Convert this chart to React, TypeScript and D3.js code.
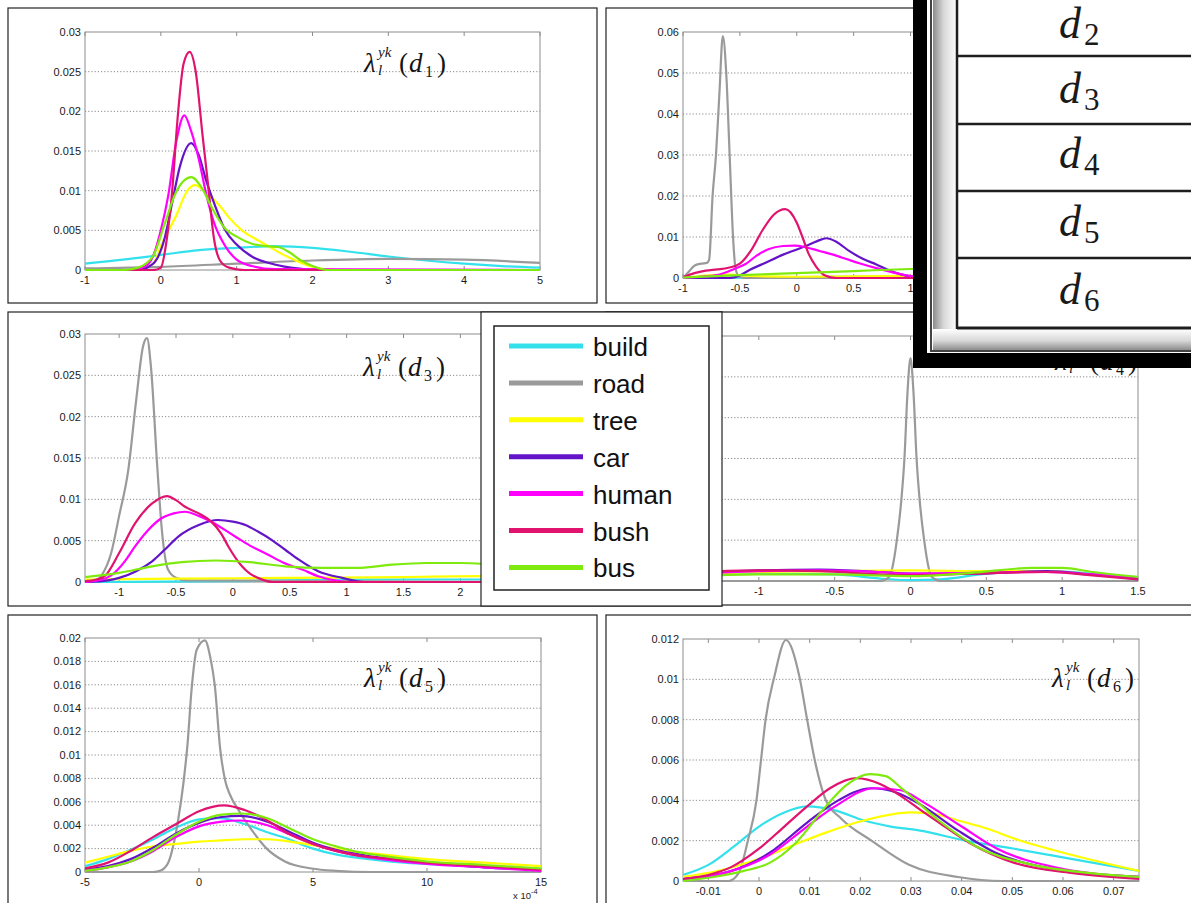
import React from 'react';
import * as d3 from 'd3';

type Pt = [number, number];

const classes = ['build', 'road', 'tree', 'car', 'human', 'bush', 'bus'];
const classColors = ['#33e1ec', '#9a9a9a', '#ffff00', '#6314c8', '#ff00ff', '#e0136f', '#7fea0e'];

// d1
const d1Build: Pt[] = [[-1, 0.0008], [-0.5, 0.0013], [0, 0.0019], [0.5, 0.0025], [1, 0.0028], [1.5, 0.003], [2, 0.0028], [2.5, 0.0023], [3, 0.0017], [3.5, 0.0012], [4, 0.0008], [4.5, 0.0005], [5, 0.0003]];
const d1Road: Pt[] = [[-1, 0.0002], [0, 0.0004], [1, 0.0008], [2, 0.0012], [3, 0.0014], [4, 0.0013], [5, 0.0009]];
const d1Tree: Pt[] = [[-1, 0], [-0.3, 0], [-0.1, 0.0008], [0, 0.003], [0.2, 0.0068], [0.35, 0.01], [0.45, 0.0107], [0.6, 0.0097], [0.76, 0.0083], [0.9, 0.0066], [1.07, 0.005], [1.25, 0.0039], [1.42, 0.003], [1.6, 0.002], [1.78, 0.0012], [2, 0.0004], [2.3, 0], [5, 0]];
const d1Car: Pt[] = [[-1, 0], [-0.3, 0], [-0.1, 0.0008], [0.05, 0.004], [0.15, 0.0085], [0.25, 0.013], [0.4, 0.016], [0.5, 0.0145], [0.6, 0.0112], [0.7, 0.0085], [0.85, 0.005], [1, 0.0032], [1.2, 0.0017], [1.5, 0.0007], [1.8, 0.0002], [2.1, 0], [5, 0]];
const d1Human: Pt[] = [[-1, 0], [-0.4, 0], [-0.2, 0.0005], [-0.1, 0.0018], [0, 0.005], [0.1, 0.0095], [0.2, 0.016], [0.31, 0.0195], [0.4, 0.0175], [0.5, 0.014], [0.6, 0.0095], [0.7, 0.006], [0.85, 0.003], [1, 0.0013], [1.2, 0.0005], [1.5, 0.0001], [5, 0]];
const d1Bush: Pt[] = [[-1, 0], [-0.1, 0], [0, 0.0003], [0.08, 0.004], [0.15, 0.01], [0.22, 0.019], [0.3, 0.026], [0.38, 0.0275], [0.46, 0.025], [0.55, 0.017], [0.62, 0.011], [0.7, 0.004], [0.78, 0.0012], [0.9, 0.0003], [1.1, 0], [5, 0]];
const d1Bus: Pt[] = [[-1, 0], [-0.5, 0], [-0.3, 0.0003], [-0.1, 0.0018], [0.05, 0.0058], [0.2, 0.0098], [0.4, 0.0117], [0.55, 0.0102], [0.67, 0.0079], [0.85, 0.0052], [1, 0.0042], [1.2, 0.0033], [1.4, 0.003], [1.55, 0.0029], [1.7, 0.0022], [1.85, 0.0012], [2, 0.0005], [2.2, 0], [5, 0]];

// d2
const d2Build: Pt[] = [[-1, 0], [0, 0.0002], [1, 0.0004], [2, 0.0004], [3, 0.0003]];
const d2Road: Pt[] = [[-1, 0], [-0.95, 0.0015], [-0.9, 0.003], [-0.84, 0.0035], [-0.79, 0.0037], [-0.77, 0.0045], [-0.74, 0.02], [-0.71, 0.03], [-0.68, 0.045], [-0.65, 0.059], [-0.62, 0.05], [-0.59, 0.03], [-0.56, 0.01], [-0.54, 0.0027], [-0.51, 0.0004], [-0.45, 0], [3, 0]];
const d2Tree: Pt[] = [[-1, 0], [-0.8, 0.0006], [-0.6, 0.0008], [-0.4, 0.0005], [0, 0.0003], [1, 0.0005], [3, 0.0003]];
const d2Car: Pt[] = [[-1, 0], [-0.6, 0], [-0.5, 0.0006], [-0.42, 0.0019], [-0.3, 0.0034], [-0.12, 0.0057], [0.08, 0.0078], [0.18, 0.009], [0.26, 0.0097], [0.35, 0.0088], [0.46, 0.0066], [0.58, 0.0047], [0.7, 0.0033], [0.8, 0.002], [0.9, 0.001], [1.02, 0.0003], [1.2, 0], [3, 0]];
const d2Human: Pt[] = [[-1, 0], [-0.85, 0.0003], [-0.7, 0.0007], [-0.55, 0.0022], [-0.45, 0.0034], [-0.35, 0.0055], [-0.25, 0.007], [-0.12, 0.0078], [-0.02, 0.0079], [0.08, 0.0075], [0.2, 0.0066], [0.32, 0.0057], [0.45, 0.0045], [0.55, 0.0036], [0.7, 0.0024], [0.81, 0.0016], [0.95, 0.0007], [1.1, 0.0002], [1.3, 0], [3, 0]];
const d2Bush: Pt[] = [[-1, 0.0002], [-0.9, 0.0012], [-0.8, 0.0018], [-0.7, 0.0021], [-0.6, 0.0025], [-0.5, 0.0035], [-0.4, 0.0068], [-0.3, 0.0117], [-0.2, 0.0155], [-0.1, 0.0168], [0, 0.0135], [0.05, 0.01], [0.1, 0.0062], [0.17, 0.0028], [0.25, 0.0006], [0.35, 0], [3, 0]];
const d2Bus: Pt[] = [[-1, 0.0001], [-0.5, 0.0007], [0, 0.0012], [0.5, 0.0017], [1, 0.0022], [1.5, 0.0025], [2, 0.0026], [2.5, 0.0024], [3, 0.002]];

// d3
const d3Build: Pt[] = [[-1.3, 0], [0, 0.0001], [1, 0.0003], [2.7, 0.0003]];
const d3Road: Pt[] = [[-1.3, 0], [-1.2, 0.0002], [-1.15, 0.0009], [-1.07, 0.0035], [-1, 0.008], [-0.92, 0.0135], [-0.85, 0.022], [-0.79, 0.0285], [-0.755, 0.0295], [-0.72, 0.026], [-0.665, 0.014], [-0.625, 0.0064], [-0.57, 0.0015], [-0.5, 0.0005], [-0.4, 0.0002], [2.7, 0]];
const d3Tree: Pt[] = [[-1.3, 0.0003], [-0.5, 0.0004], [0.5, 0.0005], [1.5, 0.0006], [2.2, 0.0007], [2.7, 0.0007]];
const d3Car: Pt[] = [[-1.3, 0], [-1.1, 0.0002], [-1, 0.0005], [-0.85, 0.0013], [-0.71, 0.0025], [-0.6, 0.0039], [-0.48, 0.0055], [-0.3, 0.0069], [-0.13, 0.0075], [0, 0.0073], [0.11, 0.0069], [0.22, 0.0061], [0.34, 0.0051], [0.46, 0.0039], [0.58, 0.0027], [0.75, 0.0013], [0.96, 0.0005], [1.16, 0], [2.7, 0]];
const d3Human: Pt[] = [[-1.3, 0], [-1.15, 0.0003], [-1.07, 0.0008], [-0.95, 0.0025], [-0.86, 0.0043], [-0.75, 0.0062], [-0.65, 0.0075], [-0.52, 0.0083], [-0.42, 0.0085], [-0.3, 0.008], [-0.19, 0.0073], [0.02, 0.0055], [0.15, 0.0044], [0.31, 0.0033], [0.45, 0.0023], [0.61, 0.0015], [0.75, 0.0007], [0.9, 0.0002], [1, 0], [2.7, 0]];
const d3Bush: Pt[] = [[-1.3, 0.0001], [-1.2, 0.0003], [-1.12, 0.0008], [-1, 0.0035], [-0.86, 0.0071], [-0.71, 0.0095], [-0.58, 0.0104], [-0.5, 0.0099], [-0.42, 0.0091], [-0.3, 0.0083], [-0.19, 0.0073], [-0.1, 0.0058], [-0.04, 0.0043], [0.08, 0.0019], [0.15, 0.001], [0.22, 0.0005], [0.35, 0], [2.7, 0]];
const d3Bus: Pt[] = [[-1.3, 0.0006], [-1, 0.0011], [-0.71, 0.0019], [-0.45, 0.0024], [-0.15, 0.0026], [0.15, 0.0024], [0.46, 0.0019], [0.8, 0.0017], [1.1, 0.0017], [1.4, 0.0021], [1.7, 0.0023], [2, 0.0023], [2.2, 0.0022], [2.5, 0.0018], [2.7, 0.0014]];

// d4
const d4Build: Pt[] = [[-1.5, 0.0006], [-1, 0.0009], [-0.5, 0.0008], [-0.2, 0.0003], [0, 0.0001], [0.2, 0.0002], [0.5, 0.0009], [0.9, 0.0012], [1.2, 0.0009], [1.5, 0.0004]];
const d4Road: Pt[] = [[-1.5, 0], [-0.2, 0], [-0.14, 0.0005], [-0.12, 0.0016], [-0.09, 0.005], [-0.06, 0.01], [-0.04, 0.015], [-0.02, 0.023], [0, 0.0273], [0.02, 0.023], [0.04, 0.015], [0.06, 0.01], [0.09, 0.005], [0.12, 0.0016], [0.14, 0.0005], [0.2, 0], [1.5, 0]];
const d4Tree: Pt[] = [[-1.5, 0.0007], [-1, 0.0011], [-0.5, 0.0012], [0, 0.0013], [0.5, 0.0012], [0.9, 0.0012], [1.2, 0.0008], [1.5, 0.0003]];
const d4Car: Pt[] = [[-1.5, 0.0009], [-1, 0.0013], [-0.6, 0.0014], [-0.2, 0.0011], [0, 0.0009], [0.4, 0.0009], [0.9, 0.0012], [1.2, 0.0008], [1.5, 0.0003]];
const d4Human: Pt[] = [[-1.5, 0.0008], [-1, 0.0012], [-0.6, 0.0013], [-0.2, 0.0011], [0, 0.0009], [0.4, 0.001], [0.9, 0.0011], [1.2, 0.0008], [1.5, 0.0002]];
const d4Bush: Pt[] = [[-1.5, 0.001], [-1, 0.0013], [-0.6, 0.0012], [-0.2, 0.0008], [0, 0.0007], [0.4, 0.0009], [0.9, 0.0011], [1.2, 0.0007], [1.5, 0.0002]];
const d4Bus: Pt[] = [[-1.5, 0.0005], [-1, 0.0008], [-0.5, 0.0008], [0, 0.0006], [0.4, 0.001], [0.8, 0.0016], [1, 0.0016], [1.2, 0.0011], [1.5, 0.0005]];

// d5 (x in 1e-4)
const d5Build: Pt[] = [[-5, 0.0005], [-4, 0.0011], [-3, 0.0019], [-2, 0.0028], [-1, 0.0038], [0, 0.0045], [0.9, 0.0046], [2, 0.0041], [3, 0.0034], [3.8, 0.0029], [5, 0.002], [6, 0.0015], [7, 0.0012], [9, 0.0008], [11, 0.0006], [13, 0.0004], [15, 0.0003]];
const d5Road: Pt[] = [[-5, 0], [-2, 0], [-1.71, 0.0001], [-1.35, 0.0008], [-1.1, 0.0025], [-0.91, 0.0045], [-0.69, 0.0075], [-0.5, 0.011], [-0.33, 0.0155], [-0.1, 0.019], [0.26, 0.0198], [0.5, 0.0183], [0.69, 0.016], [0.93, 0.0105], [1.15, 0.0078], [1.36, 0.0066], [1.73, 0.0053], [2.31, 0.0036], [2.97, 0.002], [3.77, 0.0009], [4.94, 0.0003], [6, 0.0001], [7.6, 0], [15, 0]];
const d5Tree: Pt[] = [[-5, 0.0008], [-4, 0.0013], [-3, 0.0018], [-2, 0.0022], [-1, 0.0024], [0, 0.0026], [1, 0.0027], [2, 0.0028], [3, 0.0028], [4, 0.0026], [5, 0.0023], [6, 0.002], [7, 0.0017], [8, 0.0015], [10, 0.0011], [12.5, 0.0008], [15, 0.0005]];
const d5Car: Pt[] = [[-5, 0.0002], [-4, 0.0005], [-3, 0.0011], [-2, 0.0021], [-1, 0.0033], [0, 0.0042], [1, 0.0047], [1.8, 0.0048], [3, 0.0043], [4, 0.0034], [5, 0.0025], [6, 0.0019], [7, 0.0015], [8, 0.0012], [10, 0.0008], [12.5, 0.0004], [15, 0.0002]];
const d5Human: Pt[] = [[-5, 0.0001], [-4, 0.0004], [-3, 0.0009], [-2, 0.0018], [-1, 0.003], [0, 0.0039], [1, 0.0043], [1.8, 0.0044], [3, 0.004], [4, 0.0032], [5, 0.0024], [6, 0.0018], [7, 0.0014], [8, 0.0011], [10, 0.0007], [12.5, 0.0004], [15, 0.0001]];
const d5Bush: Pt[] = [[-5, 0.0003], [-4, 0.0008], [-3, 0.0018], [-2, 0.003], [-1, 0.0041], [0, 0.0052], [1.1, 0.0057], [2, 0.0053], [3, 0.0044], [4, 0.0032], [5, 0.0024], [6, 0.0018], [7, 0.0014], [8, 0.0012], [10, 0.0008], [12.5, 0.0005], [15, 0.0002]];
const d5Bus: Pt[] = [[-5, 0.0001], [-4, 0.0004], [-3, 0.0009], [-2, 0.0019], [-1, 0.0032], [0, 0.0043], [1, 0.0049], [1.9, 0.005], [3, 0.0046], [4, 0.0037], [5, 0.0028], [6, 0.0022], [7, 0.0017], [8, 0.0014], [10, 0.0009], [12.5, 0.0006], [15, 0.0003]];

// d6
const d6Build: Pt[] = [[-0.015, 0.0003], [-0.01, 0.0008], [-0.005, 0.0017], [0, 0.0027], [0.005, 0.0034], [0.0095, 0.0037], [0.015, 0.0035], [0.0207, 0.003], [0.026, 0.0027], [0.0318, 0.0025], [0.0407, 0.002], [0.0504, 0.0016], [0.0616, 0.0011], [0.075, 0.0005]];
const d6Road: Pt[] = [[-0.015, 0], [-0.006, 0], [-0.004, 0.0004], [-0.0022, 0.002], [-0.0005, 0.004], [0.0004, 0.006], [0.0013, 0.008], [0.003, 0.0101], [0.0053, 0.01195], [0.008, 0.0101], [0.0095, 0.008], [0.011, 0.006], [0.0132, 0.004], [0.0162, 0.0031], [0.0222, 0.002], [0.0296, 0.0008], [0.0393, 0.0002], [0.048, 0], [0.075, 0]];
const d6Tree: Pt[] = [[-0.015, 0.0002], [-0.008, 0.0005], [0, 0.0011], [0.007, 0.0018], [0.0132, 0.0024], [0.0207, 0.003], [0.03, 0.0034], [0.035, 0.0033], [0.0393, 0.003], [0.045, 0.0026], [0.0504, 0.0021], [0.0616, 0.0013], [0.075, 0.0005]];
const d6Car: Pt[] = [[-0.015, 0.0001], [-0.0054, 0.0005], [0.0021, 0.0014], [0.0095, 0.0029], [0.015, 0.0039], [0.0222, 0.0046], [0.027, 0.0044], [0.0318, 0.0038], [0.0393, 0.0025], [0.0467, 0.0014], [0.0578, 0.0006], [0.075, 0.0002]];
const d6Human: Pt[] = [[-0.015, 0.0001], [-0.0054, 0.0005], [0.0021, 0.0013], [0.0095, 0.0027], [0.015, 0.0037], [0.0228, 0.0046], [0.028, 0.0045], [0.0325, 0.0039], [0.04, 0.0027], [0.047, 0.0016], [0.058, 0.0007], [0.075, 0.0002]];
const d6Bush: Pt[] = [[-0.015, 0.0001], [-0.01, 0.0003], [-0.0054, 0.0007], [0, 0.0016], [0.005, 0.0027], [0.0095, 0.0037], [0.014, 0.0046], [0.0192, 0.0051], [0.024, 0.0048], [0.0281, 0.0042], [0.032, 0.0035], [0.0355, 0.0029], [0.0415, 0.0019], [0.0504, 0.0009], [0.0616, 0.0004], [0.075, 0.0001]];
const d6Bus: Pt[] = [[-0.015, 0], [-0.009, 0.0002], [-0.003, 0.0005], [0.0021, 0.0009], [0.0073, 0.0019], [0.0132, 0.0037], [0.017, 0.0047], [0.0218, 0.0053], [0.025, 0.0052], [0.0281, 0.0046], [0.0355, 0.003], [0.043, 0.0017], [0.054, 0.0008], [0.065, 0.0004], [0.075, 0.0002]];

// ticks
const d1XTicks = [-1, 0, 1, 2, 3, 4, 5];
const d1YTicks = [0, 0.005, 0.01, 0.015, 0.02, 0.025, 0.03];
const d2XTicks = [-1, -0.5, 0, 0.5, 1];
const d2YTicks = [0, 0.01, 0.02, 0.03, 0.04, 0.05, 0.06];
const d3XTicks = [-1, -0.5, 0, 0.5, 1, 1.5, 2];
const d3YTicks = [0, 0.005, 0.01, 0.015, 0.02, 0.025, 0.03];
const d4XTicks = [-1, -0.5, 0, 0.5, 1, 1.5];
const d4YTicks = [0, 0.005, 0.01, 0.015, 0.02, 0.025, 0.03];
const d5XTicks = [-5, 0, 5, 10, 15];
const d5YTicks = [0, 0.002, 0.004, 0.006, 0.008, 0.01, 0.012, 0.014, 0.016, 0.018, 0.02];
const d6XTicks = [-0.01, 0, 0.01, 0.02, 0.03, 0.04, 0.05, 0.06, 0.07];
const d6YTicks = [0, 0.002, 0.004, 0.006, 0.008, 0.01, 0.012];

const tableRows = ['2', '3', '4', '5', '6'];

type Box = [number, number, number, number];
interface PanelCfg {
  id: string;
  sub: string;
  frame: Box;
  plot: Box;
  xDomain: [number, number];
  yDomain: [number, number];
  xTicks: number[];
  yTicks: number[];
  series: Pt[][];
  title?: [number, number];
  yLabels?: boolean;
  expLabel?: boolean;
}

// panel 2 title and panel 4 y labels sit under the overlays, so they are not drawn
const panels: PanelCfg[] = [
  { id: 'p1', sub: '1', frame: [8, 8, 597, 303], plot: [85, 32, 540, 270], xDomain: [-1, 5], yDomain: [0, 0.03], xTicks: d1XTicks, yTicks: d1YTicks, series: [d1Build, d1Road, d1Tree, d1Car, d1Human, d1Bush, d1Bus], title: [364, 72], yLabels: true },
  { id: 'p2', sub: '2', frame: [606, 8, 1250, 303], plot: [683, 32, 1138, 278], xDomain: [-1, 3], yDomain: [0, 0.06], xTicks: d2XTicks, yTicks: d2YTicks, series: [d2Build, d2Road, d2Tree, d2Car, d2Human, d2Bush, d2Bus], yLabels: true },
  { id: 'p3', sub: '3', frame: [8, 312, 722, 606], plot: [85, 334, 540, 582], xDomain: [-1.3, 2.7], yDomain: [0, 0.03], xTicks: d3XTicks, yTicks: d3YTicks, series: [d3Build, d3Road, d3Tree, d3Car, d3Human, d3Bush, d3Bus], title: [363, 376], yLabels: true },
  { id: 'p4', sub: '4', frame: [606, 312, 1250, 605], plot: [683, 336, 1138, 581], xDomain: [-1.5, 1.5], yDomain: [0, 0.03], xTicks: d4XTicks, yTicks: d4YTicks, series: [d4Build, d4Road, d4Tree, d4Car, d4Human, d4Bush, d4Bus], title: [1055, 370] },
  { id: 'p5', sub: '5', frame: [8, 615, 597, 950], plot: [85, 638, 541, 872], xDomain: [-5, 15], yDomain: [0, 0.02], xTicks: d5XTicks, yTicks: d5YTicks, series: [d5Build, d5Road, d5Tree, d5Car, d5Human, d5Bush, d5Bus], title: [364, 687], yLabels: true, expLabel: true },
  { id: 'p6', sub: '6', frame: [606, 615, 1250, 950], plot: [683, 639, 1139, 881], xDomain: [-0.015, 0.075], yDomain: [0, 0.012], xTicks: d6XTicks, yTicks: d6YTicks, series: [d6Build, d6Road, d6Tree, d6Car, d6Human, d6Bush, d6Bus], title: [1052, 687], yLabels: true },
];

const fmt = (v: number) => (v === 0 ? '0' : String(+v.toFixed(6)));
const sans = "Arial, 'Liberation Sans', Helvetica, sans-serif";
const serif = "'Liberation Serif', 'Times New Roman', serif";

const Title = ({ x, y, sub }: { x: number; y: number; sub: string }) => (
  <g fontFamily={serif} fill="#151515">
    <text x={x} y={y} fontSize={27} fontStyle="italic">λ</text>
    <text x={x + 14} y={y - 15} fontSize={15} fontStyle="italic">yk</text>
    <text x={x + 14} y={y + 3} fontSize={15} fontStyle="italic">l</text>
    <text x={x + 35} y={y} fontSize={27}>(</text>
    <text x={x + 45} y={y} fontSize={27} fontStyle="italic">d</text>
    <text x={x + 61} y={y + 5} fontSize={16}>{sub}</text>
    <text x={x + 73} y={y} fontSize={27}>)</text>
  </g>
);

const Panel = ({ cfg }: { cfg: PanelCfg }) => {
  const [px0, py0, px1, py1] = cfg.plot;
  const [fx0, fy0, fx1, fy1] = cfg.frame;
  const x = d3.scaleLinear().domain(cfg.xDomain).range([px0, px1]);
  const y = d3.scaleLinear().domain(cfg.yDomain).range([py1, py0]);
  const line = d3.line<Pt>().x(d => x(d[0])).y(d => y(d[1])).curve(d3.curveMonotoneX);
  return (
    <g>
      <rect x={fx0} y={fy0} width={fx1 - fx0} height={fy1 - fy0} fill="#fff" stroke="#222" strokeWidth={1.2} />
      <clipPath id={`clip-${cfg.id}`}>
        <rect x={px0} y={py0 - 1} width={px1 - px0} height={py1 - py0 + 2} />
      </clipPath>
      {cfg.yTicks.filter(t => t !== cfg.yDomain[0] && t !== cfg.yDomain[1]).map(t => (
        <line key={t} x1={px0} x2={px1} y1={y(t)} y2={y(t)} stroke="#8a8a8a" strokeDasharray="1.2 2" strokeWidth={1} />
      ))}
      <rect x={px0} y={py0} width={px1 - px0} height={py1 - py0} fill="none" stroke="#8c8c8c" strokeWidth={1} />
      {cfg.xTicks.map(t => (
        <g key={t}>
          <line x1={x(t)} x2={x(t)} y1={py0} y2={py0 + 4} stroke="#8c8c8c" />
          <line x1={x(t)} x2={x(t)} y1={py1} y2={py1 - 4} stroke="#8c8c8c" />
        </g>
      ))}
      <g clipPath={`url(#clip-${cfg.id})`}>
        {cfg.series.map((s, i) => (
          <path key={i} d={line(s) || ''} fill="none" stroke={classColors[i]} strokeWidth={2.2} strokeLinejoin="round" />
        ))}
      </g>
      <g fontFamily={sans} fontSize={11} fill="#1a1a1a">
        {cfg.xTicks.map(t => (
          <text key={t} x={x(t)} y={py1 + 14} textAnchor="middle">{fmt(t)}</text>
        ))}
        {cfg.yLabels && cfg.yTicks.map(t => (
          <text key={t} x={px0 - 4} y={y(t)} dy="0.35em" textAnchor="end">{fmt(t)}</text>
        ))}
      </g>
      {cfg.expLabel && (
        <text x={513} y={899} fontFamily={sans} fontSize={9.5} fill="#1a1a1a">
          x 10<tspan dy={-5} fontSize={7.5}>-4</tspan>
        </text>
      )}
      {cfg.title && <Title x={cfg.title[0]} y={cfg.title[1]} sub={cfg.sub} />}
    </g>
  );
};

const Legend = () => (
  <g>
    <rect x={481} y={312} width={241} height={294} fill="#fff" stroke="#222" strokeWidth={1.2} />
    <rect x={494} y={326} width={215} height={264} fill="#fff" stroke="#222" strokeWidth={1.5} />
    {classes.map((c, i) => {
      const cy = 346 + i * 36.9;
      return (
        <g key={c}>
          <line x1={509} x2={583} y1={cy} y2={cy} stroke={classColors[i]} strokeWidth={5} />
          <text x={593} y={cy + 10} fontFamily={sans} fontSize={26} fill="#111">{c}</text>
        </g>
      );
    })}
  </g>
);

const TableOverlay = () => {
  const rowLines = [56, 124, 191, 258];
  const baselines = [38, 103, 168, 236, 304];
  return (
    <g>
      <defs>
        <linearGradient id="bevelH" x1="0" x2="1" y1="0" y2="0">
          <stop offset="0" stopColor="#8d8d8d" />
          <stop offset="0.45" stopColor="#d8d8d8" />
          <stop offset="1" stopColor="#ffffff" />
        </linearGradient>
        <linearGradient id="bevelV" x1="0" x2="0" y1="0" y2="1">
          <stop offset="0" stopColor="#ffffff" />
          <stop offset="0.55" stopColor="#d8d8d8" />
          <stop offset="1" stopColor="#8d8d8d" />
        </linearGradient>
      </defs>
      <rect x={913} y={-10} width={300} height={378} fill="#000" />
      <rect x={927} y={-10} width={290} height={363} fill="#fff" />
      <rect x={933} y={-10} width={24} height={340} fill="url(#bevelH)" />
      <rect x={933} y={329} width={280} height={21} fill="url(#bevelV)" />
      <line x1={931} x2={931} y1={-10} y2={352} stroke="#444" strokeWidth={2} />
      <line x1={931} x2={1213} y1={351} y2={351} stroke="#444" strokeWidth={2} />
      <rect x={957} y={-10} width={260} height={338} fill="#fff" />
      <line x1={957} x2={957} y1={-10} y2={329} stroke="#1e1e1e" strokeWidth={2.5} />
      {rowLines.map(ry => (
        <line key={ry} x1={957} x2={1213} y1={ry} y2={ry} stroke="#1e1e1e" strokeWidth={2.5} />
      ))}
      <line x1={957} x2={1213} y1={328} y2={328} stroke="#1e1e1e" strokeWidth={3} />
      {tableRows.map((r, i) => (
        <g key={r} fontFamily={serif} fill="#1a1a1a">
          <text x={1059} y={baselines[i]} fontSize={44} fontStyle="italic">d</text>
          <text x={1084} y={baselines[i] + 7} fontSize={31}>{r}</text>
        </g>
      ))}
    </g>
  );
};

export default function App() {
  return (
    <div style={{ position: 'absolute', left: 0, top: 0, width: 1191, height: 903, overflow: 'hidden', background: '#fff' }}>
      <svg width={1191} height={903} viewBox="0 0 1191 903">
        <rect x={0} y={0} width={1191} height={903} fill="#fff" />
        {panels.map(p => <Panel key={p.id} cfg={p} />)}
        <Legend />
        <TableOverlay />
      </svg>
    </div>
  );
}
